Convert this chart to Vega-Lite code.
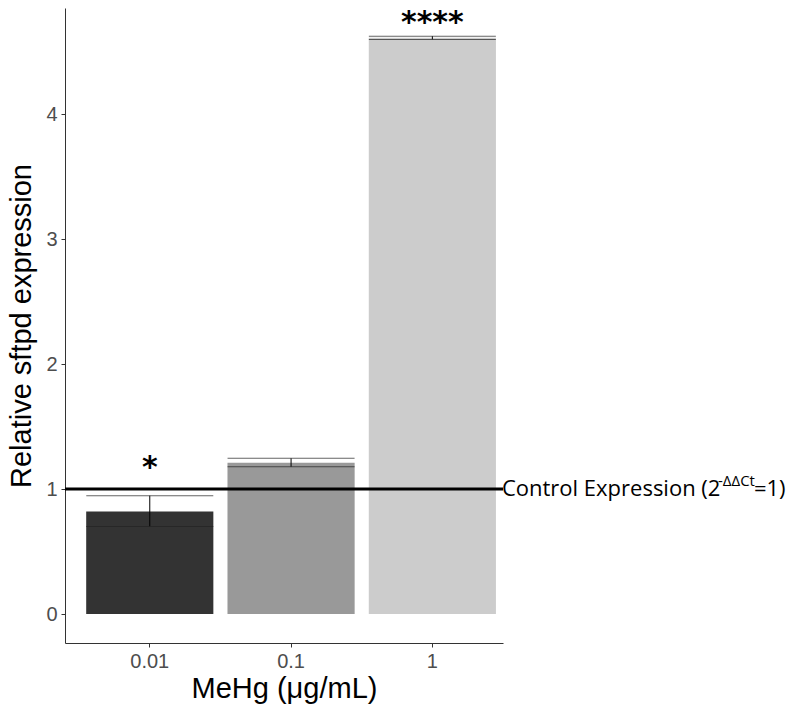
{
  "$schema": "https://vega.github.io/schema/vega-lite/v6.json",
  "width": 438,
  "height": 635,
  "autosize": {"type": "none"},
  "padding": {"left": 65, "top": 8, "right": 296, "bottom": 65},
  "background": "white",
  "config": {
    "view": {"stroke": null},
    "axis": {
      "grid": false,
      "domainColor": "#333333",
      "tickColor": "#333333",
      "labelColor": "#4d4d4d",
      "labelFont": "Liberation Sans",
      "titleFont": "Liberation Sans",
      "labelFontSize": 20,
      "titleFontSize": 29,
      "titleFontWeight": "normal",
      "titleColor": "black",
      "tickSize": 4
    }
  },
  "data": {
    "values": [
      {"conc": "0.01", "mean": 0.82, "lower": 0.70, "upper": 0.947, "sig": "*", "sig_y": 1.17},
      {"conc": "0.1", "mean": 1.21, "lower": 1.178, "upper": 1.246, "sig": "", "sig_y": 1.3},
      {"conc": "1", "mean": 4.61, "lower": 4.597, "upper": 4.623, "sig": "****", "sig_y": 4.73}
    ]
  },
  "encoding": {
    "x": {
      "field": "conc",
      "type": "nominal",
      "sort": ["0.01", "0.1", "1"],
      "scale": {"domain": ["0.01", "0.1", "1"], "paddingInner": 0.1, "paddingOuter": 0.1, "align": 0.75},
      "axis": {"title": "MeHg (μg/mL)", "labelAngle": 0, "labelPadding": 4, "titlePadding": 3}
    }
  },
  "layer": [
    {
      "mark": {"type": "bar"},
      "encoding": {
        "y": {
          "field": "mean",
          "type": "quantitative",
          "scale": {"domain": [-0.232, 4.848], "nice": false, "zero": false},
          "axis": {"title": "Relative sftpd expression", "values": [0, 1, 2, 3, 4], "format": "d", "labelPadding": 4, "titlePadding": 9}
        },
        "y2": {"datum": 0},
        "color": {
          "field": "conc",
          "type": "nominal",
          "scale": {"domain": ["0.01", "0.1", "1"], "range": ["#333333", "#999999", "#cccccc"]},
          "legend": null
        }
      }
    },
    {
      "mark": {"type": "rule", "color": "black", "strokeWidth": 1},
      "encoding": {
        "y": {"field": "lower", "type": "quantitative"},
        "y2": {"field": "upper"}
      }
    },
    {
      "mark": {"type": "tick", "color": "#222222", "thickness": 1, "size": 127, "orient": "horizontal"},
      "encoding": {"y": {"field": "upper", "type": "quantitative"}}
    },
    {
      "mark": {"type": "tick", "color": "#222222", "thickness": 1, "size": 127, "orient": "horizontal"},
      "encoding": {"y": {"field": "lower", "type": "quantitative"}}
    },
    {
      "mark": {"type": "text", "font": "DejaVu Sans", "fontSize": 30, "fontWeight": "bold", "baseline": "middle", "color": "black"},
      "encoding": {
        "y": {"field": "sig_y", "type": "quantitative"},
        "text": {"field": "sig"}
      }
    },
    {
      "data": {"values": [{"v": 1}]},
      "mark": {"type": "rule", "color": "black", "strokeWidth": 3},
      "encoding": {"y": {"field": "v", "type": "quantitative"}, "x": null}
    },
    {
      "data": {"values": [{"v": 1, "conc": "1", "t": "Control Expression (2"}]},
      "mark": {"type": "text", "font": "Open Sans", "fontSize": 22, "align": "left", "baseline": "middle", "dx": 6, "color": "black"},
      "encoding": {
        "x": {"field": "conc", "type": "nominal", "bandPosition": 1},
        "y": {"field": "v", "type": "quantitative"},
        "text": {"field": "t"}
      }
    },
    {
      "data": {"values": [{"v": 1, "conc": "1", "t": "-ΔΔCt"}]},
      "mark": {"type": "text", "font": "Open Sans", "fontSize": 15, "align": "left", "baseline": "middle", "dx": 222, "dy": -8, "color": "black"},
      "encoding": {
        "x": {"field": "conc", "type": "nominal", "bandPosition": 1},
        "y": {"field": "v", "type": "quantitative"},
        "text": {"field": "t"}
      }
    },
    {
      "data": {"values": [{"v": 1, "conc": "1", "t": "=1)"}]},
      "mark": {"type": "text", "font": "Open Sans", "fontSize": 22, "align": "left", "baseline": "middle", "dx": 258, "color": "black"},
      "encoding": {
        "x": {"field": "conc", "type": "nominal", "bandPosition": 1},
        "y": {"field": "v", "type": "quantitative"},
        "text": {"field": "t"}
      }
    }
  ]
}
